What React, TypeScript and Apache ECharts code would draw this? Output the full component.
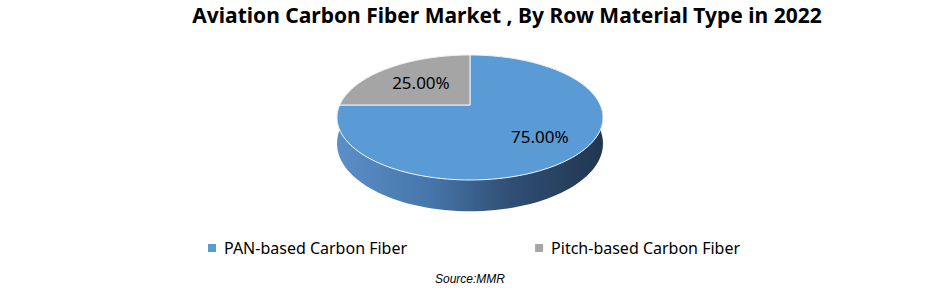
import React, { useEffect, useRef } from "react";
import * as echarts from "echarts";

const titleText = "Aviation Carbon Fiber Market , By Row Material Type in 2022";
const categories = ["PAN-based Carbon Fiber", "Pitch-based Carbon Fiber"];
const values = [75, 25];
const colors = ["#5b9bd5", "#a5a5a5"];
const sourceText = "Source:MMR";

const total = values.reduce((a, b) => a + b, 0);
const starts: number[] = [];
values.reduce((acc, v, i) => {
  starts[i] = acc;
  return acc + v;
}, 0);

// geometry of the projected pie
const CX = 470;
const CY = 105;
const A = 130.3;
const B = 60;
const P = 0.2;
const DEPTH = 25;

function proj(phiDeg: number, k = 1): [number, number] {
  const f = (phiDeg * Math.PI) / 180;
  const w = 1 + P * k * Math.sin(f);
  return [CX + (A * k * Math.cos(f)) / w, CY - (B * k * Math.sin(f)) / w];
}
function wOf(phiDeg: number) {
  return 1 + P * Math.sin((phiDeg * Math.PI) / 180);
}

export default function App() {
  const ref = useRef<HTMLDivElement>(null);
  useEffect(() => {
    document.body.style.margin = "0";
    const chart = echarts.init(ref.current!, undefined, { renderer: "svg" });
    const font = "'Noto Sans', sans-serif";
    const sideGrad = new echarts.graphic.LinearGradient(0, 0, 1, 0, [
      { offset: 0, color: "#5b8fc7" },
      { offset: 0.35, color: "#4676aa" },
      { offset: 0.65, color: "#304f74" },
      { offset: 1, color: "#213650" },
    ]);
    const series = categories.map((name, si) => ({
      type: "custom",
      name,
      coordinateSystem: "none",
      itemStyle: { color: colors[si] },
      data: [[starts[si], values[si]]],
      renderItem: (params: any, api: any) => {
        const s = api.value(0) as number;
        const v = api.value(1) as number;
        // clockwise from 12 o'clock
        const t0 = (s / total) * 360;
        const t1 = ((s + v) / total) * 360;
        const phi0 = 90 - t0;
        const phi1 = 90 - t1;
        const children: any[] = [];
        // side wall (front part: phi in [-180, 0])
        const lo = Math.max(phi1, -180);
        const hi = Math.min(phi0, 0);
        if (hi > lo) {
          const top: [number, number][] = [];
          const bot: [number, number][] = [];
          const n = 80;
          for (let i = 0; i <= n; i++) {
            const ph = hi - ((hi - lo) * i) / n;
            const p = proj(ph);
            top.push(p);
            bot.push([p[0], p[1] + DEPTH / wOf(ph)]);
          }
          children.push({
            type: "polygon",
            shape: { points: top.concat(bot.reverse()) },
            style: { fill: sideGrad, stroke: "none" },
          });
        }
        // top face
        const pts: [number, number][] = [[CX, CY]];
        const n2 = Math.max(10, Math.round((phi0 - phi1) / 2));
        for (let i = 0; i <= n2; i++) {
          const ph = phi0 - ((phi0 - phi1) * i) / n2;
          pts.push(proj(ph));
        }
        children.push({
          type: "polygon",
          shape: { points: pts },
          style: {
            fill: colors[params.seriesIndex],
            stroke: "#eaf2fa",
            lineWidth: 1,
            lineJoin: "round",
          },
        });
        // label
        const mid = (phi0 + phi1) / 2;
        const lp = proj(mid, 0.64);
        children.push({
          type: "text",
          x: lp[0] + 5,
          y: lp[1] + 2,
          style: {
            text: ((v / total) * 100).toFixed(2) + "%",
            fill: "#000",
            fontSize: 17,
            fontFamily: font,
            align: "center",
            verticalAlign: "middle",
          },
        });
        return { type: "group", children };
      },
    }));
    chart.setOption({
      animation: false,
      title: {
        text: titleText,
        left: 507,
        textAlign: "center",
        top: 4,
        padding: 0,
        textStyle: { fontSize: 21, fontWeight: "bold", fontFamily: font, color: "#000" },
      },
      legend: {
        data: categories,
        left: 208,
        top: 240,
        padding: 0,
        icon: "rect",
        itemWidth: 8,
        itemHeight: 8,
        itemGap: 128,
        textStyle: { fontSize: 16, fontFamily: font, color: "#000", padding: [0, 0, 0, 3] },
      },
      graphic: [
        {
          type: "text",
          left: "center",
          top: 273,
          style: {
            text: sourceText,
            fontSize: 12,
            fontStyle: "italic",
            fontFamily: "'Liberation Sans', Arial, sans-serif",
            fill: "#000",
          },
        },
      ],
      series,
    });
    return () => chart.dispose();
  }, []);
  return <div ref={ref} style={{ width: 940, height: 296 }} />;
}
